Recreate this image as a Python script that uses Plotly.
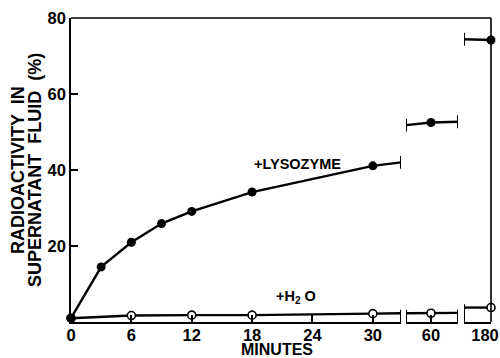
import plotly.graph_objects as go

# ---------------- data ----------------
t_early = [0, 3, 6, 9, 12, 18, 30]
lyso_early = [1.0, 14.5, 21.0, 25.9, 29.1, 34.2, 41.1]
t_h2o_early = [0, 6, 12, 18, 30]
h2o_early = [1.0, 1.7, 1.8, 1.8, 2.2]
t_mid = [60]
lyso_mid = [52.5]
h2o_mid = [2.3]
t_late = [180]
lyso_late = [74.2]
h2o_late = [3.8]

# broken time axis: visible minute windows
seg1_range = [0, 32.8]
seg2_range = [57.5, 62.7]
seg3_range = [177.3, 180]

# line values where each curve meets a break
lyso_seg1_end = 42.0
lyso_seg2_edges = [51.8, 52.7]
lyso_seg3_start = 74.4
h2o_seg1_end = 2.3
h2o_seg2_edges = [2.3, 2.4]
h2o_seg3_start = 3.8

x_ticks_seg1 = [0, 6, 12, 18, 24, 30]
x_ticks_seg2 = [60]
x_ticks_seg3 = [180]
y_ticks = [20, 40, 60, 80]

FONT = "Liberation Sans"
BLACK = "black"
LW = 2.4

fig = go.Figure()

def add_seg(xax, xs, lys, h2o, lys_x, lys_y, h2o_x, h2o_y, cap_x_lys, cap_y_lys, cap_x_h2o, cap_y_h2o):
    fig.add_trace(go.Scatter(x=h2o_x, y=h2o_y, mode="lines", xaxis=xax, yaxis="y",
                             line=dict(color=BLACK, width=LW), cliponaxis=False, hoverinfo="skip"))
    fig.add_trace(go.Scatter(x=lys_x, y=lys_y, mode="lines", xaxis=xax, yaxis="y",
                             line=dict(color=BLACK, width=LW), cliponaxis=False, hoverinfo="skip"))
    fig.add_trace(go.Scatter(x=cap_x_lys, y=cap_y_lys, mode="markers", xaxis=xax, yaxis="y",
                             marker=dict(size=1, color="rgba(0,0,0,0)"),
                             error_y=dict(type="constant", value=1.7, width=0, thickness=2, color=BLACK),
                             cliponaxis=False, hoverinfo="skip"))
    fig.add_trace(go.Scatter(x=cap_x_h2o, y=cap_y_h2o, mode="markers", xaxis=xax, yaxis="y",
                             marker=dict(size=1, color="rgba(0,0,0,0)"),
                             error_y=dict(type="data", symmetric=False,
                                          array=[0.9] * len(cap_y_h2o), arrayminus=cap_y_h2o,
                                          width=0, thickness=2, color=BLACK),
                             cliponaxis=False, hoverinfo="skip"))
    fig.add_trace(go.Scatter(x=xs[1], y=h2o, mode="markers", xaxis=xax, yaxis="y",
                             marker=dict(symbol="circle", size=8, color="white",
                                         line=dict(color=BLACK, width=1.6)),
                             cliponaxis=False, hoverinfo="skip"))
    fig.add_trace(go.Scatter(x=xs[0], y=lys, mode="markers", xaxis=xax, yaxis="y",
                             marker=dict(symbol="circle", size=9, color=BLACK),
                             cliponaxis=False, hoverinfo="skip"))

add_seg("x", (t_early, t_h2o_early), lyso_early, h2o_early,
        t_early + [seg1_range[1]], lyso_early + [lyso_seg1_end],
        t_h2o_early + [seg1_range[1]], h2o_early + [h2o_seg1_end],
        [seg1_range[1]], [lyso_seg1_end], [seg1_range[1]], [h2o_seg1_end])
add_seg("x2", (t_mid, t_mid), lyso_mid, h2o_mid,
        [seg2_range[0]] + t_mid + [seg2_range[1]], [lyso_seg2_edges[0]] + lyso_mid + [lyso_seg2_edges[1]],
        [seg2_range[0]] + t_mid + [seg2_range[1]], [h2o_seg2_edges[0]] + h2o_mid + [h2o_seg2_edges[1]],
        seg2_range, lyso_seg2_edges, seg2_range, h2o_seg2_edges)
add_seg("x3", (t_late, t_late), lyso_late, h2o_late,
        [seg3_range[0]] + t_late, [lyso_seg3_start] + lyso_late,
        [seg3_range[0]] + t_late, [h2o_seg3_start] + h2o_late,
        [seg3_range[0]], [lyso_seg3_start], [seg3_range[0]], [h2o_seg3_start])

tickfont = dict(family=FONT, size=16.5, color=BLACK, weight="bold")
common_x = dict(showline=True, linecolor=BLACK, linewidth=1.6, ticks="inside", ticklen=7,
                tickwidth=1.6, tickcolor=BLACK, showgrid=False, zeroline=False,
                tickfont=tickfont, anchor="y", fixedrange=True, ticklabelstandoff=-3,
                automargin=False, ticklabeloverflow="allow")

W, H = 500, 358
ml, mr, mt, mb = 71, 9, 18, 36
pw = W - ml - mr
ph = H - mt - mb

fig.update_layout(
    width=W, height=H,
    margin=dict(l=ml, r=mr, t=mt, b=mb, autoexpand=False),
    paper_bgcolor="white", plot_bgcolor="white",
    showlegend=False,
    xaxis=dict(domain=[0, (401 - ml) / pw], range=seg1_range, tickvals=x_ticks_seg1, **common_x),
    xaxis2=dict(domain=[(406 - ml) / pw, (458 - ml) / pw], range=seg2_range, tickvals=x_ticks_seg2, **common_x),
    xaxis3=dict(domain=[(464 - ml) / pw, 1], range=seg3_range, tickvals=x_ticks_seg3,
                ticklabelshift=-6, **common_x),
    yaxis=dict(range=[0, 80], tickvals=y_ticks, showline=True, linecolor=BLACK, linewidth=1.6,
               ticks="inside", ticklen=7, tickwidth=1.6, tickcolor=BLACK, showgrid=False,
               zeroline=False, tickfont=tickfont, fixedrange=True, automargin=False),
    shapes=[
        dict(type="line", xref="paper", yref="paper", x0=0, x1=1, y0=1, y1=1,
             line=dict(color=BLACK, width=1.6)),
        dict(type="line", xref="paper", yref="paper", x0=1, x1=1, y0=0, y1=1,
             line=dict(color=BLACK, width=1.6)),
    ],
    annotations=[
        dict(text="+LYSOZYME", xref="x", yref="y", x=22.5, y=41.6, showarrow=False,
             font=dict(family=FONT, size=14.5, color=BLACK, weight="bold")),
        dict(text="+H<sub>2</sub> O", xref="x", yref="y", x=22.4, y=6.6, showarrow=False,
             font=dict(family=FONT, size=14.5, color=BLACK, weight="bold")),
        dict(text="MINUTES", xref="paper", yref="paper", x=(277 - ml) / pw, y=-(349.5 - 322) / ph,
             showarrow=False, xanchor="center", yanchor="middle",
             font=dict(family=FONT, size=16, color=BLACK, weight="bold")),
        dict(text="RADIOACTIVITY  IN", xref="paper", yref="paper",
             x=(18 - ml) / pw, y=0.5, textangle=-90, showarrow=False,
             xanchor="center", yanchor="middle",
             font=dict(family=FONT, size=18, color=BLACK, weight="bold")),
        dict(text="SUPERNATANT  FLUID  (%)", xref="paper", yref="paper",
             x=(35 - ml) / pw, y=0.5, textangle=-90, showarrow=False,
             xanchor="center", yanchor="middle",
             font=dict(family=FONT, size=18, color=BLACK, weight="bold")),
    ],
)

fig.write_html("out.html")
